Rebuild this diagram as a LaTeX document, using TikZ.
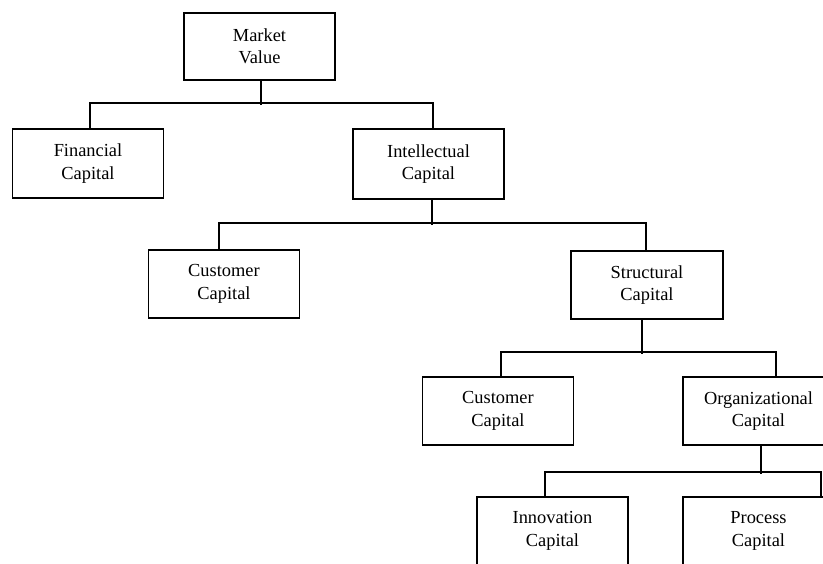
\documentclass[tikz,border=0pt]{standalone}
\usepackage{fontspec}
\setmainfont{Liberation Serif}
\begin{document}
\begin{tikzpicture}[x=1pt,y=-1pt,
  box/.style={draw, line width=1.9pt, rectangle, align=center, inner sep=0pt,
    minimum width=151pt, minimum height=68pt,
    font=\fontsize{18.4}{22.5}\selectfont},
  link/.style={line width=1.9pt}]
\useasboundingbox (0,0) rectangle (823,563);
\clip (0,0) rectangle (823,563);
\fill[white] (0,0) rectangle (823,563);

% boxes
\node[box, minimum height=67pt] (mv)  at (259.5,46.5) {Market\\Value};
\node[box, minimum height=69pt] (fc)  at (88,163.5)   {Financial\\Capital};
\node[box, minimum height=70pt] (ic)  at (428.5,164)  {Intellectual\\Capital};
\node[box] (cc)  at (224,284)   {Customer\\Capital};
\node[box, minimum width=152pt] (sc)  at (647,285)   {Structural\\Capital};
\node[box] (cc2) at (498,411)   {Customer\\Capital};
\node[box] (oc)  at (758.5,411) {Organizational\\Capital};
\node[box] (inn) at (552.5,531) {Innovation\\Capital};
\node[box] (pc)  at (758.5,531) {Process\\Capital};

% level 1
\draw[link] ([xshift=1.5pt]mv.south) -- ++(0,24);
\draw[link] ([xshift=2pt]fc.north) -- ++(0,-25) -| ([xshift=4.5pt]ic.north);

% level 2
\draw[link] ([xshift=3.5pt]ic.south) -- ++(0,25);
\draw[link] ([xshift=-5pt]cc.north) -- ++(0,-26) -| ([xshift=-1pt]sc.north);

% level 3
\draw[link] ([xshift=-5pt]sc.south) -- ++(0,34);
\draw[link] ([xshift=3pt]cc2.north) -- ++(0,-24) -| ([xshift=17.5pt]oc.north);

% level 4
\draw[link] ([xshift=2.5pt]oc.south) -- ++(0,28);
\draw[link] ([xshift=-7.5pt]inn.north) -- ++(0,-24) -| ([xshift=62.5pt]pc.north);
\end{tikzpicture}
\end{document}
